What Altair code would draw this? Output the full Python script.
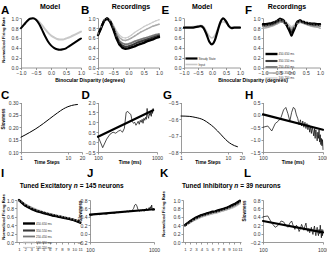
import altair as alt
import pandas as pd

W, H = 327, 255
FONT = "Liberation Sans"

# ---------------- data ----------------
disparity = [-1.0, -0.9, -0.8, -0.7, -0.6, -0.5, -0.4, -0.3, -0.2, -0.1, 0.0,
             0.1, 0.2, 0.3, 0.4, 0.5, 0.6, 0.7, 0.8, 0.9, 1.0]

# A: model (near tuned)
a_steady = [0.80, 0.87, 0.94, 0.99, 1.00, 0.97, 0.89, 0.77, 0.64, 0.53, 0.45,
            0.40, 0.37, 0.36, 0.37, 0.39, 0.43, 0.47, 0.51, 0.55, 0.59]
a_input = [0.80, 0.87, 0.94, 0.99, 1.00, 0.98, 0.93, 0.86, 0.78, 0.71, 0.65,
           0.61, 0.58, 0.57, 0.57, 0.59, 0.61, 0.64, 0.67, 0.70, 0.73]

# B: recordings, five time windows
windows = ["450-650 ms", "350-550 ms", "250-450 ms", "150-350 ms", "100-250 ms"]
win_colors = ["#000000", "#3a3a3a", "#777777", "#aaaaaa", "#cccccc"]
win_widths = [2.4, 1.2, 1.0, 0.9, 0.9]
b_450 = [0.66, 0.80, 0.95, 1.00, 0.93, 0.78, 0.60, 0.47, 0.40, 0.38, 0.39,
         0.41, 0.43, 0.46, 0.48, 0.50, 0.53, 0.55, 0.57, 0.60, 0.62]
b_350 = [0.66, 0.81, 0.95, 1.00, 0.94, 0.80, 0.63, 0.50, 0.44, 0.42, 0.43,
         0.45, 0.48, 0.51, 0.53, 0.55, 0.57, 0.59, 0.61, 0.63, 0.65]
b_250 = [0.67, 0.82, 0.95, 1.00, 0.95, 0.82, 0.66, 0.54, 0.49, 0.47, 0.48,
         0.50, 0.53, 0.55, 0.57, 0.59, 0.61, 0.63, 0.65, 0.67, 0.68]
b_150 = [0.68, 0.82, 0.96, 1.00, 0.96, 0.85, 0.71, 0.61, 0.56, 0.55, 0.57,
         0.60, 0.64, 0.68, 0.72, 0.75, 0.78, 0.81, 0.84, 0.86, 0.88]
b_100 = [0.70, 0.83, 0.96, 1.00, 0.97, 0.87, 0.75, 0.66, 0.61, 0.60, 0.62,
         0.66, 0.71, 0.75, 0.79, 0.83, 0.86, 0.89, 0.92, 0.95, 0.97]

# E: model (tuned inhibitory)
e_steady = [0.81, 0.81, 0.81, 0.81, 0.82, 0.83, 0.84, 0.80, 0.68, 0.53, 0.47,
            0.55, 0.74, 0.92, 1.00, 0.94, 0.84, 0.80, 0.81, 0.81, 0.81]
e_input = [0.82, 0.82, 0.82, 0.83, 0.83, 0.84, 0.86, 0.83, 0.74, 0.64, 0.60,
           0.65, 0.78, 0.90, 0.93, 0.90, 0.85, 0.82, 0.82, 0.82, 0.82]

# F: recordings
f_450 = [0.88, 0.88, 0.89, 0.90, 0.92, 0.95, 0.99, 0.97, 0.90, 0.78, 0.65,
         0.78, 0.93, 0.96, 0.93, 0.91, 0.90, 0.89, 0.89, 0.88, 0.88]
f_350 = [0.86, 0.86, 0.87, 0.88, 0.90, 0.93, 0.96, 0.95, 0.89, 0.80, 0.70,
         0.80, 0.92, 0.95, 0.92, 0.90, 0.89, 0.88, 0.87, 0.87, 0.87]
f_250 = [0.84, 0.84, 0.85, 0.86, 0.88, 0.91, 0.94, 0.93, 0.88, 0.82, 0.76,
         0.82, 0.90, 0.93, 0.91, 0.89, 0.87, 0.86, 0.85, 0.85, 0.84]
f_150 = [0.80, 0.81, 0.82, 0.84, 0.86, 0.89, 0.92, 0.92, 0.88, 0.84, 0.80,
         0.84, 0.89, 0.92, 0.90, 0.88, 0.86, 0.84, 0.83, 0.82, 0.80]
f_100 = [0.84, 0.85, 0.87, 0.89, 0.92, 0.95, 0.97, 0.96, 0.93, 0.88, 0.83,
         0.87, 0.93, 0.96, 0.95, 0.93, 0.91, 0.89, 0.88, 0.86, 0.85]

# C, G: model slowness vs time steps
time_steps = [1, 1.5, 2, 3, 4, 5, 6, 7, 8, 10, 12, 16]
c_slow = [0.160, 0.178, 0.192, 0.215, 0.233, 0.247, 0.258, 0.267, 0.274, 0.283, 0.288, 0.292]
g_slow = [-0.582, -0.584, -0.590, -0.605, -0.628, -0.650, -0.672, -0.692, -0.710, -0.737, -0.753, -0.768]

# D, H, J, L: slowness vs time (ms)
time_d = [100, 120, 140, 160, 180, 200, 220, 240, 260, 280, 300, 320, 340, 360, 380,
          400, 420, 440, 460, 480, 500, 520, 540, 560, 580, 600, 620, 640, 660, 680,
          700, 720, 740, 760, 780, 800, 820, 840, 860]
time_ms = [100, 120, 140, 160, 180, 200, 220, 240, 260, 280, 300, 320, 340, 360, 380,
           400, 420, 440, 460, 480, 500, 520, 540, 560, 580, 600, 620, 640, 660, 680,
           700, 720, 740, 760, 780, 800, 820, 840, 860, 880, 900, 920, 940, 960, 980, 1000]
d_slow = [0.30, -0.28, 0.15, 0.40, 0.50, 0.45, 0.55, 0.60, 0.50, 0.70,
          1.50, 1.55, 1.45, 1.40, 1.05, 0.95, 1.00, 0.85, 0.95, 1.05,
          0.90, 1.10, 1.00, 1.15, 0.95, 1.20, 1.10, 1.25, 1.15, 1.70,
          1.30, 1.20, 1.45, 1.35, 1.50, 1.30, 1.60, 1.45, 1.70]
d_fit_t = [100, 860]
d_fit = [0.27, 1.61]
h_slow = [-0.50, -0.45, -0.65, -0.35, -0.25, -0.10, 0.20, 0.30, 0.05, -0.25,
          0.10, 0.30, 0.25, 0.00, -0.15, -0.40, -0.20, -0.45, -0.25, -0.50,
          -0.30, -0.55, -0.35, -0.60, -0.40, -0.70, -0.45, -0.75, -0.50, -0.65,
          -0.85, -0.55, -0.95, -0.60, -0.80, -1.05, -0.70, -0.95, -0.60, -1.10,
          -0.80, -1.20, -0.95, -1.25, -1.00, -1.40]
h_fit_t = [100, 1000]
h_fit = [0.02, -0.60]
j_slow = [0.42, 0.47, 0.45, 0.48, 0.46, 0.49, 0.50, 0.48, 0.51, 0.50,
          0.52, 0.51, 0.53, 0.52, 0.54, 0.52, 0.55, 0.53, 0.56, 0.60,
          0.68, 0.70, 0.66, 0.58, 0.55, 0.53, 0.56, 0.54, 0.57, 0.55,
          0.53, 0.58, 0.56, 0.60, 0.57, 0.55, 0.59, 0.62, 0.58, 0.64,
          0.60, 0.68, 0.58, 0.55, 0.60, 0.55]
j_fit_t = [100, 1000]
j_fit = [0.45, 0.58]
l_slow = [0.40, 0.42, 0.25, 0.15, 0.20, 0.30, 0.28, 0.20, 0.15, 0.25,
          0.30, 0.18, 0.10, 0.20, 0.15, 0.05, 0.12, 0.22, 0.15, 0.08,
          0.18, 0.25, 0.10, 0.05, 0.12, 0.02, 0.08, 0.15, 0.05, -0.02,
          0.10, 0.18, 0.05, -0.05, 0.08, 0.15, 0.02, -0.05, 0.10, 0.00,
          0.20, 0.05, -0.10, 0.10, -0.05, 0.08]
l_fit_t = [100, 1000]
l_fit = [0.30, 0.03]

# I, K: normalized firing rate vs presentation number
presentation = [1, 1.5, 2, 2.5, 3, 3.5, 4, 4.5, 5, 5.5, 6, 6.5, 7, 7.5, 8, 8.5,
                9, 9.5, 10, 10.5, 11]
i_450 = [1.00, 0.93, 0.87, 0.83, 0.79, 0.76, 0.73, 0.71, 0.69, 0.67, 0.65,
         0.63, 0.62, 0.60, 0.59, 0.57, 0.56, 0.54, 0.52, 0.49, 0.46]
i_350 = [1.00, 0.94, 0.88, 0.84, 0.80, 0.77, 0.74, 0.72, 0.70, 0.68, 0.66,
         0.64, 0.62, 0.61, 0.59, 0.58, 0.56, 0.54, 0.52, 0.50, 0.47]
i_250 = [0.99, 0.94, 0.89, 0.85, 0.81, 0.78, 0.75, 0.73, 0.70, 0.68, 0.66,
         0.65, 0.63, 0.61, 0.60, 0.58, 0.57, 0.55, 0.53, 0.50, 0.47]
i_150 = [0.98, 0.95, 0.90, 0.86, 0.82, 0.79, 0.76, 0.73, 0.71, 0.69, 0.67,
         0.65, 0.64, 0.62, 0.61, 0.59, 0.57, 0.55, 0.53, 0.51, 0.48]
i_100 = [0.99, 0.95, 0.91, 0.87, 0.83, 0.80, 0.77, 0.75, 0.72, 0.70, 0.68,
         0.66, 0.65, 0.63, 0.61, 0.60, 0.58, 0.56, 0.54, 0.51, 0.48]
k_450 = [0.40, 0.45, 0.50, 0.54, 0.58, 0.61, 0.64, 0.66, 0.68, 0.70, 0.72,
         0.73, 0.75, 0.77, 0.79, 0.81, 0.84, 0.87, 0.90, 0.94, 0.98]
k_350 = [0.40, 0.45, 0.49, 0.53, 0.57, 0.60, 0.63, 0.65, 0.67, 0.69, 0.71,
         0.72, 0.74, 0.76, 0.78, 0.80, 0.83, 0.86, 0.89, 0.93, 0.97]
k_250 = [0.40, 0.44, 0.48, 0.52, 0.56, 0.59, 0.62, 0.64, 0.66, 0.68, 0.70,
         0.71, 0.73, 0.75, 0.77, 0.79, 0.81, 0.84, 0.87, 0.90, 0.95]
k_150 = [0.39, 0.43, 0.47, 0.51, 0.54, 0.57, 0.60, 0.62, 0.64, 0.66, 0.68,
         0.69, 0.71, 0.73, 0.75, 0.77, 0.79, 0.82, 0.85, 0.88, 0.93]
k_100 = [0.39, 0.42, 0.46, 0.50, 0.53, 0.56, 0.59, 0.61, 0.63, 0.65, 0.67,
         0.68, 0.70, 0.72, 0.74, 0.76, 0.78, 0.80, 0.83, 0.87, 0.91]

# tick labels
disp_ticks = [-1.0, -0.5, 0.0, 0.5, 1.0]
rate_ticks = [0.0, 0.2, 0.4, 0.6, 0.8, 1.0]
steps_ticks = [1, 10, 20]
ms_ticks = [100, 1000]
pres_ticks = [1, 2, 3, 4, 5, 6, 7, 8, 9, 10, 11]
c_ticks = [0.10, 0.15, 0.20, 0.25, 0.30]
d_ticks = [-0.5, 0.0, 0.5, 1.0, 1.5, 2.0]
g_ticks = [-0.8, -0.7, -0.6, -0.5]
h_ticks = [-1.5, -1.0, -0.5, 0.0, 0.5]
jl_ticks = [-0.2, 0.0, 0.2, 0.4, 0.6, 0.8]

# ---------------- helpers ----------------
AX = dict(grid=False, title=None, labelFont=FONT, labelColor="#333333",
          domainColor="#808080", domainWidth=0.8, tickColor="#808080", tickWidth=0.8,
          tickSize=2, labelOverlap=False, labelFlush=False, labelBound=False)


def panel(series, legend_order, colors, widths, xr, yr, xdom, ydom, xvals, yvals,
          xfmt, yfmt, xlog=False, point=None, legend=None, interp="linear", xpad=1,
          xfs=5):
    rows = []
    for name, xs, ys in series:
        for xv, yv in zip(xs, ys):
            rows.append({"x": xv, "y": yv, "s": name})
    df = pd.DataFrame(rows)
    if xlog:
        xsc = alt.Scale(type="log", domain=xdom, range=xr, nice=False)
    else:
        xsc = alt.Scale(domain=xdom, range=xr, nice=False, zero=False)
    ysc = alt.Scale(domain=ydom, range=yr, nice=False, zero=False)
    mk = dict(interpolate=interp, strokeCap="round", strokeJoin="round")
    if point is not None:
        mk["point"] = point
    enc = dict(
        x=alt.X("x:Q", scale=xsc,
                axis=alt.Axis(orient="bottom", offset=-(H - yr[0]), values=xvals,
                              format=xfmt, labelPadding=xpad, labelFontSize=xfs, **AX)),
        y=alt.Y("y:Q", scale=ysc,
                axis=alt.Axis(orient="left", offset=-xr[0], values=yvals,
                              format=yfmt, labelPadding=1, labelFontSize=5, **AX)),
    )
    if legend is None:
        enc["color"] = alt.Color("s:N", scale=alt.Scale(domain=legend_order, range=colors), legend=None)
        enc["strokeWidth"] = alt.StrokeWidth("s:N", scale=alt.Scale(domain=legend_order, range=widths), legend=None)
    else:
        enc["color"] = alt.Color("s:N", scale=alt.Scale(domain=legend_order, range=colors), legend=legend)
        enc["strokeWidth"] = alt.StrokeWidth("s:N", scale=alt.Scale(domain=legend_order, range=widths), legend=legend)
    return alt.Chart(df).mark_line(**mk).encode(**enc)


def legend_at(x, y):
    # tiny symbol size + negative row padding keeps the rows tight
    return alt.Legend(orient="none", legendX=x, legendY=y, title=None,
                      symbolType="M-24,0H24", symbolSize=0.25, symbolFillColor="transparent",
                      labelFont=FONT, labelFontSize=3, labelColor="#333333",
                      rowPadding=-4.2, padding=0, labelOffset=5.5)


ONE = pd.DataFrame({"k": [0]})


def label(s, x, y, size, angle=0, align="left", baseline="alphabetic", weight="bold",
          style="normal"):
    kw = dict(text=s, font=FONT, fontSize=size, fontWeight=weight, align=align,
              baseline=baseline, color="#000000", fontStyle=style)
    if angle:
        kw["angle"] = angle
    return alt.Chart(ONE).mark_text(**kw).encode(x=alt.value(x), y=alt.value(y))


pt = alt.OverlayMarkDef(size=2, filled=True)

# rows of the panel grid (pixel positions of plot areas)
R1 = [67.5, 18.3]
R2 = [152.0, 102.5]
R3 = [242.0, 200.0]

panels = [
    # A
    panel([("Input", disparity, a_input), ("Steady State", disparity, a_steady)],
          ["Steady State", "Input"], ["#000000", "#c8c8c8"], [2.0, 2.0],
          [21, 81], R1, [-1, 1], [0, 1], disp_ticks, rate_ticks, ".1f", ".1f",
          interp="monotone"),
    # B
    panel([(windows[4], disparity, b_100), (windows[3], disparity, b_150),
           (windows[2], disparity, b_250), (windows[1], disparity, b_350),
           (windows[0], disparity, b_450)],
          windows, win_colors, win_widths,
          [98, 159], R1, [-1, 1], [0, 1], disp_ticks, rate_ticks, ".1f", ".1f",
          point=pt),
    # E
    panel([("Input", disparity, e_input), ("Steady State", disparity, e_steady)],
          ["Steady State", "Input"], ["#000000", "#c8c8c8"], [2.2, 1.6],
          [184, 240], R1, [-1, 1], [0, 1], disp_ticks, rate_ticks, ".1f", ".1f",
          interp="monotone", legend=legend_at(190, 57)),
    # F
    panel([(windows[4], disparity, f_100), (windows[3], disparity, f_150),
           (windows[2], disparity, f_250), (windows[1], disparity, f_350),
           (windows[0], disparity, f_450)],
          windows, win_colors, win_widths,
          [263, 320], R1, [-1, 1], [0, 1], disp_ticks, rate_ticks, ".1f", ".1f",
          point=pt, legend=legend_at(270, 52.5)),
    # C
    panel([("model", time_steps, c_slow)], ["model"], ["#000000"], [2.2],
          [21, 82], R2, [1, 20], [0.10, 0.30], steps_ticks, c_ticks, "d", ".2f",
          xlog=True, interp="monotone"),
    # D
    panel([("data", time_d, d_slow), ("fit", d_fit_t, d_fit)], ["data", "fit"],
          ["#000000", "#000000"], [0.7, 2.2],
          [98, 157], R2, [100, 1000], [-0.5, 2.0], ms_ticks, d_ticks, "d", ".1f",
          xlog=True),
    # G
    panel([("model", time_steps, g_slow)], ["model"], ["#000000"], [2.2],
          [181, 242], R2, [1, 20], [-0.8, -0.5], steps_ticks, g_ticks, "d", ".1f",
          xlog=True, interp="monotone"),
    # H
    panel([("data", time_ms, h_slow), ("fit", h_fit_t, h_fit)], ["data", "fit"],
          ["#000000", "#000000"], [0.7, 2.2],
          [263, 323], R2, [100, 1000], [-1.5, 0.5], ms_ticks, h_ticks, "d", ".1f",
          xlog=True),
    # I
    panel([(windows[4], presentation, i_100), (windows[3], presentation, i_150),
           (windows[2], presentation, i_250), (windows[1], presentation, i_350),
           (windows[0], presentation, i_450)],
          windows, win_colors, win_widths,
          [16.5, 81.5], R3, [0.6, 11.2], [0, 1], pres_ticks, rate_ticks, "d", ".1f",
          point=pt, legend=legend_at(27.5, 222), xpad=3, xfs=4.3),
    # J
    panel([("data", time_ms, j_slow), ("fit", j_fit_t, j_fit)], ["data", "fit"],
          ["#000000", "#000000"], [0.7, 2.2],
          [90, 154], R3, [100, 1000], [-0.2, 0.8], ms_ticks, jl_ticks, "d", ".1f",
          xlog=True, xpad=3),
    # K
    panel([(windows[4], presentation, k_100), (windows[3], presentation, k_150),
           (windows[2], presentation, k_250), (windows[1], presentation, k_350),
           (windows[0], presentation, k_450)],
          windows, win_colors, win_widths,
          [183, 241], R3, [0.64, 11.2], [0, 1], pres_ticks, rate_ticks, "d", ".1f",
          point=pt, xpad=3, xfs=4.3),
    # L
    panel([("data", time_ms, l_slow), ("fit", l_fit_t, l_fit)], ["data", "fit"],
          ["#000000", "#000000"], [0.7, 2.2],
          [263, 323], R3, [100, 1000], [-0.2, 0.8], ms_ticks, jl_ticks, "d", ".1f",
          xlog=True, xpad=3),
]

texts = [
    # panel letters
    label("A", 1, 13.5, 11.5), label("B", 81, 13.5, 11.5),
    label("E", 161.5, 13.5, 11.5), label("F", 245, 13.5, 11.5),
    label("C", 1, 98.5, 11.5), label("D", 81.5, 98.5, 11.5),
    label("G", 163, 98.5, 11.5), label("H", 245, 98.5, 11.5),
    label("I", 1, 176.5, 11.5), label("J", 87, 176.5, 11.5),
    label("K", 160, 176.5, 11.5), label("L", 244, 176.5, 11.5),
    # panel titles
    label("Model", 50, 8.5, 7, align="center"),
    label("Recordings", 131, 8.5, 7, align="center"),
    label("Model", 202, 8.5, 7, align="center"),
    label("Recordings", 287, 8.5, 7, align="center"),
    label("Tuned Excitatory", 72, 188, 6.5, align="right"),
    label("n", 73.8, 188, 6.5, style="italic"),
    label("= 145 neurons", 79.8, 188, 6.5),
    label("Tuned Inhibitory", 232.5, 188, 6.5, align="right"),
    label("n", 234.3, 188, 6.5, style="italic"),
    label("= 39 neurons", 240.3, 188, 6.5),
    # x-axis titles
    label("Binocular Disparity (degrees)", 90, 82, 5, align="center"),
    label("Binocular Disparity (degrees)", 253, 82, 5, align="center"),
    label("Time Steps", 47, 163.5, 4.8, align="center"),
    label("Time Steps", 208, 163.5, 4.8, align="center"),
    label("Time (ms)", 130, 164, 4.8, align="center"),
    label("Time (ms)", 293, 164, 4.8, align="center"),
    # y-axis titles
    label("Normalized Firing Rate", 4, 40, 4.2, angle=270, align="center", baseline="middle"),
    label("Slowness", 4, 119, 4.6, angle=270, align="center", baseline="middle"),
    label("Normalized Firing Rate", 4, 217, 4.2, angle=270, align="center", baseline="middle"),
    label("Slowness", 80.5, 211, 4.6, angle=270, align="center", baseline="middle"),
    label("Normalized Firing Rate", 163.5, 214, 4.2, angle=270, align="center", baseline="middle"),
    label("Slowness", 245, 211, 4.6, angle=270, align="center", baseline="middle"),
]

chart = (
    alt.layer(*panels, *texts)
    .resolve_scale(x="independent", y="independent", color="independent",
                   strokeWidth="independent")
    .properties(width=W, height=H, padding=0,
                autosize=alt.AutoSizeParams(type="none"), background="white")
    .configure_view(stroke=None)
)

chart.save("out.html", embed_options={"renderer": "svg", "actions": False})
